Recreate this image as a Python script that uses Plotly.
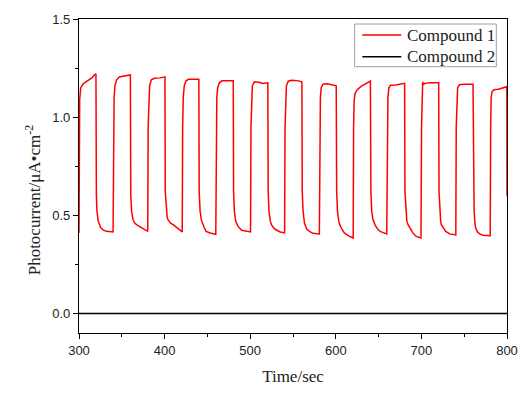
import plotly.graph_objects as go

# ---- data ----
compound1_time = [
    300.0, 300.3, 300.8, 302.0, 305.0, 308.0, 311.0, 315.0, 318.0, 319.8,
    320.3, 321.0, 322.5, 325.0, 328.0, 332.0, 339.8,
    340.3, 341.0, 342.0, 344.0, 347.0, 352.0, 360.0,
    360.5, 361.5, 363.0, 365.0, 368.0, 371.0, 375.0, 380.3,
    380.8, 381.5, 382.5, 384.5, 388.0, 395.0, 400.4,
    400.8, 401.8, 403.0, 404.0, 407.0, 410.0, 415.0, 420.6,
    421.1, 421.8, 423.0, 425.0, 428.0, 440.0,
    440.4, 441.5, 443.0, 444.0, 446.0, 448.5, 453.0, 459.8,
    460.3, 461.0, 462.0, 464.0, 467.0, 475.0, 480.2,
    480.6, 481.5, 483.0, 485.8, 490.0, 495.0, 500.4,
    500.9, 501.5, 502.5, 505.0, 510.0, 515.0, 520.6,
    521.0, 522.0, 523.5, 524.8, 527.0, 530.0, 535.0, 540.2,
    540.7, 541.3, 542.3, 544.5, 548.0, 555.0, 560.4,
    560.8, 561.8, 563.4, 566.0, 569.3, 573.0, 580.8,
    581.3, 582.0, 583.0, 585.0, 590.0, 596.0, 600.5,
    601.0, 602.0, 603.5, 604.6, 607.0, 610.0, 615.0, 620.3,
    620.8, 621.4, 622.5, 625.0, 630.0, 635.0, 640.4,
    641.0, 642.0, 643.5, 646.0, 649.4, 653.0, 659.5,
    660.2, 660.9, 662.0, 664.0, 670.0, 676.0, 680.4,
    680.8, 681.8, 683.0, 684.4, 687.0, 690.0, 694.0, 699.5,
    700.2, 700.9, 701.5, 702.3, 704.0, 710.0, 720.2,
    720.6, 721.6, 722.5, 723.3, 726.0, 728.4, 733.0, 740.2,
    740.7, 741.3, 742.3, 744.5, 750.0, 760.3,
    760.7, 761.6, 762.5, 763.4, 765.5, 768.0, 772.0, 780.4,
    780.9, 781.5, 782.5, 785.0, 790.0, 795.0, 799.8,
    800.0,
]
compound1_current = [
    0.41, 0.95, 1.09, 1.15, 1.17, 1.18, 1.19, 1.20, 1.215, 1.22,
    0.60, 0.52, 0.47, 0.44, 0.425, 0.418, 0.415,
    0.95, 1.10, 1.16, 1.19, 1.205, 1.21, 1.215,
    0.60, 0.52, 0.48, 0.46, 0.45, 0.443, 0.43, 0.418,
    0.95, 1.10, 1.16, 1.19, 1.198, 1.20, 1.205,
    0.62, 0.53, 0.49, 0.477, 0.46, 0.452, 0.435, 0.415,
    0.95, 1.10, 1.16, 1.185, 1.193, 1.193,
    0.62, 0.52, 0.475, 0.46, 0.44, 0.418, 0.41, 0.403,
    0.95, 1.10, 1.15, 1.175, 1.185, 1.187, 1.185,
    0.62, 0.52, 0.47, 0.443, 0.423, 0.418, 0.415,
    0.95, 1.10, 1.16, 1.18, 1.178, 1.172, 1.175,
    0.62, 0.52, 0.47, 0.452, 0.438, 0.426, 0.415, 0.41,
    0.95, 1.10, 1.16, 1.183, 1.188, 1.186, 1.18,
    0.62, 0.52, 0.46, 0.43, 0.418, 0.408, 0.405,
    0.95, 1.10, 1.15, 1.168, 1.17, 1.163, 1.16,
    0.62, 0.52, 0.47, 0.452, 0.43, 0.41, 0.395, 0.384,
    0.95, 1.08, 1.12, 1.14, 1.158, 1.172, 1.184,
    0.62, 0.52, 0.477, 0.45, 0.426, 0.415, 0.405,
    0.95, 1.10, 1.15, 1.162, 1.164, 1.167, 1.172,
    0.62, 0.52, 0.47, 0.452, 0.43, 0.41, 0.392, 0.384,
    0.95, 1.10, 1.18, 1.165, 1.172, 1.175, 1.175,
    0.62, 0.52, 0.47, 0.452, 0.43, 0.418, 0.405, 0.40,
    0.95, 1.10, 1.15, 1.165, 1.168, 1.168,
    0.62, 0.52, 0.46, 0.435, 0.415, 0.405, 0.398, 0.396,
    0.95, 1.10, 1.13, 1.14, 1.142, 1.148, 1.155,
    0.60,
]
compound2_time = [300, 400, 500, 600, 700, 800]
compound2_current = [0.0, 0.0, 0.0, 0.0, 0.0, 0.0]

series_names = ["Compound 1", "Compound 2"]
series_colors = ["#ff0000", "#000000"]
x_tick_vals = [300, 400, 500, 600, 700, 800]
y_tick_vals = [0.0, 0.5, 1.0, 1.5]
y_tick_text = ["0.0", "0.5", "1.0", "1.5"]

SERIF = "Liberation Serif, Times New Roman, serif"
SANS = "Liberation Sans, Arial, sans-serif"

fig = go.Figure()
fig.add_trace(go.Scatter(x=compound1_time, y=compound1_current, mode="lines",
                         name=series_names[0], showlegend=False,
                         line=dict(color=series_colors[0], width=1.5)))
fig.add_trace(go.Scatter(x=compound2_time, y=compound2_current, mode="lines",
                         name=series_names[1], showlegend=False,
                         line=dict(color=series_colors[1], width=1.5)))

axis_common = dict(showline=True, linecolor="black", linewidth=1.3, mirror=True,
                   showgrid=False, zeroline=False, ticks="outside", ticklen=5,
                   tickwidth=1.2, tickcolor="black", automargin=False,
                   tickfont=dict(family=SANS, size=13, color="#222"))

fig.update_xaxes(range=[300, 800], tickvals=x_tick_vals, **axis_common,
                 minor=dict(dtick=50, tick0=300, ticks="outside", ticklen=3,
                            tickwidth=1.2, tickcolor="black", showgrid=False),
                 title=dict(text="Time/sec", font=dict(family=SERIF, size=17, color="#222"),
                            standoff=13))
fig.update_yaxes(range=[-0.1, 1.5], tickvals=y_tick_vals, ticktext=y_tick_text, **axis_common,
                 minor=dict(dtick=0.25, tick0=0, ticks="outside", ticklen=3,
                            tickwidth=1.2, tickcolor="black", showgrid=False))

fig.add_annotation(text="Photocurrent/μA•cm<sup>-2</sup>", xref="paper", yref="paper",
                   x=-0.108, y=0.425, xanchor="center", yanchor="middle",
                   textangle=-90, showarrow=False,
                   font=dict(family=SERIF, size=17, color="#222"))

# legend box drawn in the reference style (grey frame, long line samples)
fig.add_shape(type="rect", xref="paper", yref="paper", x0=0.644, x1=0.975, y0=0.848, y1=0.984,
              line=dict(color="#a0a0a0", width=1), fillcolor="white", layer="above")
legend_rows_y = [0.949, 0.880]
for name, color, ry in zip(series_names, series_colors, legend_rows_y):
    fig.add_shape(type="line", xref="paper", yref="paper", x0=0.662, x1=0.753, y0=ry, y1=ry,
                  line=dict(color=color, width=1.5), layer="above")
    fig.add_annotation(text=name, xref="paper", yref="paper", x=0.761, y=ry,
                       xanchor="left", yanchor="middle", showarrow=False,
                       font=dict(family=SERIF, size=17, color="#222"))

# page body has an 8px default margin, so the figure is sized to fit the window
fig.update_layout(
    width=513, height=380,
    margin=dict(l=71, r=14, t=11, b=55, autoexpand=False),
    paper_bgcolor="white", plot_bgcolor="white",
    showlegend=False,
)

fig.write_html("out.html")
